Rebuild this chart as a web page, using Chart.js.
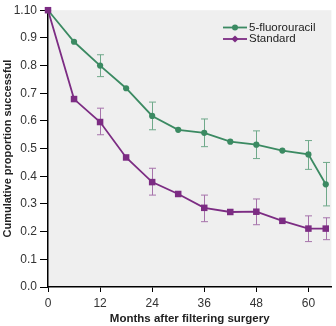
<!DOCTYPE html>
<html lang="en">
    <head>
        <meta charset="UTF-8" />
        <title>Cumulative proportion successful</title>
        <style>
            body {
                margin: 0;
                background: #fff;
                font-family: "Liberation Sans", Arial, sans-serif;
            }
            #wrap {
                width: 336px;
                height: 326px;
            }
        </style>
    </head>
    <body>
        <div id="wrap">
            <canvas id="chart" width="336" height="326"></canvas>
        </div>

        <script src="https://cdn.jsdelivr.net/npm/chart.js"></script>
        <script>
            // months after surgery
            const months = [0, 6, 12, 18, 24, 30, 36, 42, 48, 54, 60, 64]
            const fluoro = [1.0, 0.886, 0.8, 0.718, 0.618, 0.568, 0.557, 0.525, 0.514, 0.493, 0.479, 0.371]
            const standard = [1.0, 0.679, 0.596, 0.468, 0.379, 0.336, 0.286, 0.271, 0.272, 0.239, 0.211, 0.211]

            // error bars
            const errMonths = [12, 24, 36, 48, 60, 64]
            const fluoroLow = [0.76, 0.568, 0.507, 0.464, 0.425, 0.293]
            const fluoroHigh = [0.839, 0.668, 0.607, 0.564, 0.529, 0.45]
            const standardLow = [0.55, 0.332, 0.236, 0.225, 0.164, 0.171]
            const standardHigh = [0.646, 0.429, 0.332, 0.318, 0.257, 0.25]

            const xTicks = [0, 12, 24, 36, 48, 60]
            const yTicks = [0, 0.1, 0.2, 0.3, 0.4, 0.5, 0.6, 0.7, 0.8, 0.9, 1.0]
            const yTickLabels = ["0.0", "0.1", "0.2", "0.3", "0.4", "0.5", "0.6", "0.7", "0.8", "0.9", "1.10"]

            const green = "#3b8a62"
            const purple = "#7c2c83"
            const greenErr = "#6fa98a"
            const purpleErr = "#a673ab"
            const fontFamily = '"Liberation Sans", Arial, sans-serif'

            const toPts = (ys) => months.map((m, i) => ({ x: m, y: ys[i] }))

            const plotBg = {
                id: "plotBg",
                beforeDraw(chart) {
                    const { ctx, chartArea: a } = chart
                    ctx.save()
                    ctx.fillStyle = "#efefef"
                    ctx.fillRect(a.left, a.top, a.right - a.left, a.bottom - a.top)
                    ctx.restore()
                },
            }

            const errorBars = {
                id: "errorBars",
                beforeDatasetsDraw(chart) {
                    const { ctx, scales } = chart
                    const draw = (lo, hi, color) => {
                        ctx.strokeStyle = color
                        ctx.lineWidth = 1
                        errMonths.forEach((m, i) => {
                            const x = Math.round(scales.x.getPixelForValue(m)) + 0.5
                            const y1 = scales.y.getPixelForValue(lo[i])
                            const y2 = scales.y.getPixelForValue(hi[i])
                            ctx.beginPath()
                            ctx.moveTo(x, y1)
                            ctx.lineTo(x, y2)
                            ctx.moveTo(x - 3.5, y1)
                            ctx.lineTo(x + 3.5, y1)
                            ctx.moveTo(x - 3.5, y2)
                            ctx.lineTo(x + 3.5, y2)
                            ctx.stroke()
                        })
                    }
                    ctx.save()
                    draw(fluoroLow, fluoroHigh, greenErr)
                    draw(standardLow, standardHigh, purpleErr)
                    ctx.restore()
                },
            }

            const legendBox = {
                id: "legendBox",
                afterDraw(chart) {
                    const { ctx } = chart
                    const items = [
                        { label: "5-fluorouracil", color: green, y: 27.5, shape: "circle" },
                        { label: "Standard", color: purple, y: 39, shape: "diamond" },
                    ]
                    ctx.save()
                    items.forEach((it) => {
                        ctx.strokeStyle = it.color
                        ctx.fillStyle = it.color
                        ctx.lineWidth = 1.8
                        ctx.beginPath()
                        ctx.moveTo(223, it.y)
                        ctx.lineTo(247, it.y)
                        ctx.stroke()
                        ctx.beginPath()
                        if (it.shape === "circle") {
                            ctx.arc(235, it.y, 3, 0, Math.PI * 2)
                        } else {
                            ctx.moveTo(235, it.y - 3.6)
                            ctx.lineTo(238.6, it.y)
                            ctx.lineTo(235, it.y + 3.6)
                            ctx.lineTo(231.4, it.y)
                            ctx.closePath()
                        }
                        ctx.fill()
                        ctx.fillStyle = "#222"
                        ctx.font = "11.5px " + fontFamily
                        ctx.textBaseline = "middle"
                        ctx.fillText(it.label, 249, it.y)
                    })
                    ctx.restore()
                },
            }

            new Chart(document.getElementById("chart"), {
                type: "line",
                data: {
                    datasets: [
                        {
                            label: "Standard",
                            data: toPts(standard),
                            borderColor: purple,
                            backgroundColor: purple,
                            borderWidth: 1.8,
                            pointStyle: "rect",
                            pointRadius: 4.6,
                            pointBorderWidth: 0,
                            tension: 0,
                            clip: false,
                            order: 0,
                        },
                        {
                            label: "5-fluorouracil",
                            data: toPts(fluoro),
                            borderColor: green,
                            backgroundColor: green,
                            borderWidth: 1.8,
                            pointStyle: "circle",
                            pointRadius: 3.1,
                            pointBorderWidth: 0,
                            tension: 0,
                            clip: false,
                            order: 1,
                        },
                    ],
                },
                options: {
                    responsive: false,
                    animation: false,
                    layout: { padding: { top: 7, right: 0, left: 0, bottom: 0 } },
                    plugins: {
                        legend: { display: false },
                        tooltip: { enabled: false },
                    },
                    scales: {
                        x: {
                            type: "linear",
                            min: 0,
                            max: 65.3,
                            afterBuildTicks: (axis) => {
                                axis.ticks = xTicks.map((v) => ({ value: v }))
                            },
                            afterFit: (axis) => {
                                axis.height = 39
                            },
                            grid: {
                                drawOnChartArea: false,
                                tickLength: 5,
                                color: "#000",
                                tickWidth: 1,
                            },
                            border: { color: "#000", width: 1.5 },
                            ticks: {
                                color: "#333",
                                padding: 4,
                                maxRotation: 0,
                                font: { family: fontFamily, size: 12 },
                            },
                            title: {
                                display: true,
                                text: "Months after filtering surgery",
                                color: "#222",
                                padding: { top: 3, bottom: 0 },
                                font: { family: fontFamily, size: 11.5, weight: "bold" },
                            },
                        },
                        y: {
                            min: 0,
                            max: 1.0,
                            afterBuildTicks: (axis) => {
                                axis.ticks = yTicks.map((v) => ({ value: v }))
                            },
                            afterFit: (axis) => {
                                axis.width = 48
                            },
                            grid: {
                                drawOnChartArea: false,
                                tickLength: 8,
                                color: "#000",
                                tickWidth: 1,
                            },
                            border: { color: "#000", width: 1.5 },
                            ticks: {
                                color: "#333",
                                padding: 3,
                                font: { family: fontFamily, size: 12 },
                                callback: (v, i) => yTickLabels[i],
                            },
                            title: {
                                display: true,
                                text: "Cumulative proportion successful",
                                color: "#222",
                                padding: { top: 1, bottom: 0 },
                                font: { family: fontFamily, size: 11, weight: "bold" },
                            },
                        },
                    },
                },
                plugins: [plotBg, errorBars, legendBox],
            })
        </script>
    </body>
</html>
